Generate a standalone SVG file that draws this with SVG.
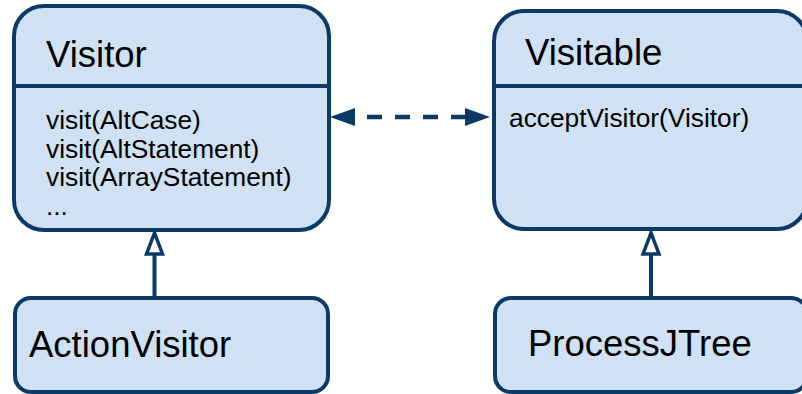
<svg xmlns="http://www.w3.org/2000/svg" width="802" height="394" viewBox="0 0 802 394">
<style>
.box{fill:#cfe1f2;stroke:#0c3a67;stroke-width:4}
.div{stroke:#0c3a67;stroke-width:4}
.title{font-family:"Liberation Sans",Arial,sans-serif;font-size:36.5px;fill:#000}
.meth{font-family:"Liberation Sans",Arial,sans-serif;font-size:26.3px;fill:#000}
.dash{stroke:#0c3a67;stroke-width:4.5;fill:none;stroke-dasharray:15 13;stroke-dashoffset:16}
.inh{stroke:#0c3a67;stroke-width:4;fill:none}
</style>
<defs>
<marker id="filled" markerUnits="userSpaceOnUse" markerWidth="30" markerHeight="30" refX="0" refY="9" orient="auto-start-reverse" overflow="visible">
<path d="M0,0 L25,9 L0,18 z" fill="#0c3a67"/>
</marker>
<marker id="hollow" markerUnits="userSpaceOnUse" markerWidth="30" markerHeight="30" refX="0" refY="8" orient="auto" overflow="visible">
<path d="M0,0 L21,8 L0,16 z" fill="#ffffff" stroke="#0c3a67" stroke-width="3.5" stroke-linejoin="miter"/>
</marker>
</defs>
<g id="connectors">
<line class="dash" x1="355" y1="117" x2="465" y2="117" marker-start="url(#filled)" marker-end="url(#filled)"/>
<line class="inh" x1="154.5" y1="297" x2="154.5" y2="254" marker-end="url(#hollow)"/>
<line class="inh" x1="651" y1="297" x2="651" y2="254" marker-end="url(#hollow)"/>
</g>
<g id="visitor">
<rect class="box" x="14" y="6" width="315" height="224" rx="30"/>
<line class="div" x1="14" y1="86" x2="329" y2="86"/>
<text class="title" x="46" y="67">Visitor</text>
<text class="meth" x="46" y="129">visit(AltCase)</text>
<text class="meth" x="46" y="157.5">visit(AltStatement)</text>
<text class="meth" x="46" y="186">visit(ArrayStatement)</text>
<text class="meth" x="46" y="215">...</text>
</g>
<g id="visitable">
<rect class="box" x="494" y="11" width="313" height="218" rx="30"/>
<line class="div" x1="494" y1="86" x2="807" y2="86"/>
<text class="title" x="525" y="65">Visitable</text>
<text class="meth" x="509" y="127">acceptVisitor(Visitor)</text>
</g>
<g id="actionvisitor">
<rect class="box" x="15" y="298" width="313" height="94" rx="16"/>
<text class="title" x="29" y="357">ActionVisitor</text>
</g>
<g id="processjtree">
<rect class="box" x="495" y="298" width="312" height="94" rx="16"/>
<text class="title" x="528" y="356">ProcessJTree</text>
</g>
</svg>
